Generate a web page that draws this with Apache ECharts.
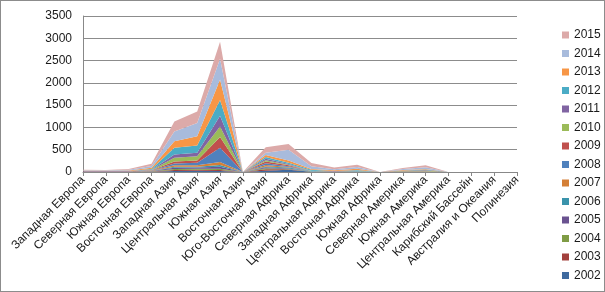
<!DOCTYPE html>
<html><head><meta charset="utf-8">
<script src="https://cdn.jsdelivr.net/npm/echarts@6/dist/echarts.min.js"></script>
<style>
html,body{margin:0;padding:0;background:#fff;}
#c{width:605px;height:292px;box-sizing:border-box;border:1px solid #8c8c8c;}
</style></head>
<body><div id="c"></div>
<script>
const categories = ['Западная Европа','Северная Европа','Южная Европа','Восточная Европа','Западная Азия','Центральная Азия','Южная Азия','Восточная Азия','Юго-Восточная Азия','Северная Африка','Западная Африка','Центральная Африка','Восточная Африка','Южная Африка','Северная Америка','Южная Америка','Центральная Америка','Карибский Бассейн','Австралия и Океания','Полинезия'];
const years = ['2002','2003','2004','2005','2006','2007','2008','2009','2010','2011','2012','2013','2014','2015'];
const yTicks = [0,500,1000,1500,2000,2500,3000,3500];
const v2002 = [2,2,2,5,25,30,20,0,30,50,3,2,3,0,2,2,0,0,0,0];
const v2003 = [2,2,2,5,20,20,25,0,30,10,3,2,3,0,2,2,0,0,0,0];
const v2004 = [2,2,2,5,25,25,30,0,25,10,3,2,3,0,2,2,0,0,0,0];
const v2005 = [2,2,2,5,25,25,40,0,20,10,3,2,3,0,2,2,0,0,0,0];
const v2006 = [2,2,2,5,20,15,40,0,20,20,3,2,3,0,2,2,0,0,0,0];
const v2007 = [2,2,2,5,34,34,70,0,30,10,3,2,3,0,2,2,0,0,0,0];
const v2008 = [2,2,2,5,44,60,320,0,40,20,3,2,3,0,2,2,0,0,0,0];
const v2009 = [2,2,2,5,45,51,240,0,40,20,3,2,3,0,2,5,0,0,0,0];
const v2010 = [2,2,2,5,82,96,237,0,30,15,3,2,5,0,10,15,0,0,0,0];
const v2011 = [2,2,2,5,73,75,238,0,30,15,3,2,5,0,5,10,0,0,0,0];
const v2012 = [5,4,5,20,149,162,356,0,40,30,20,5,10,0,5,10,0,0,0,0];
const v2013 = [5,5,10,25,147,207,460,0,45,50,20,15,30,0,10,15,0,0,0,0];
const v2014 = [10,8,15,40,222,298,466,0,53,240,60,20,40,0,20,40,0,0,0,0];
const v2015 = [10,8,20,50,222,258,380,0,125,130,70,40,50,0,25,40,0,0,0,0];
const values = [v2002,v2003,v2004,v2005,v2006,v2007,v2008,v2009,v2010,v2011,v2012,v2013,v2014,v2015];
const colors = ['#3f6a9f','#a2403d','#7f9c45','#6a5290','#3a93ab','#d47f36','#4f81bd','#c0504d','#9bbb59','#8064a2','#4bacc6','#f79646','#a8bbdc','#dcaaa9'];

const chart = echarts.init(document.getElementById('c'), null, {renderer:'canvas'});
const font = 'Liberation Sans, Arial, sans-serif';
chart.setOption({
  animation:false,
  color: colors,
  grid:{left:82, right:87, top:15, bottom:119, containLabel:false},
  legend:{
    orient:'vertical', left:556, top:22,
    data: years.slice().reverse(),
    icon:'rect', itemWidth:7, itemHeight:7, itemGap:4.5,
    textStyle:{fontFamily:font, fontSize:12, color:'#1a1a1a', lineHeight:14}
  },
  xAxis:{
    type:'category', data:categories, boundaryGap:false,
    axisLine:{lineStyle:{color:'#888', width:1}},
    axisTick:{show:true, alignWithLabel:true, interval:0, length:4, lineStyle:{color:'#888'}},
    axisLabel:{interval:0, rotate:45, fontFamily:font, fontSize:12, color:'#1a1a1a', margin:6},
    splitLine:{show:false}
  },
  yAxis:{
    type:'value', min:yTicks[0], max:yTicks[yTicks.length-1], interval:500,
    axisLine:{show:true, lineStyle:{color:'#888'}},
    axisTick:{show:false},
    axisLabel:{fontFamily:font, fontSize:12, color:'#1a1a1a', margin:11, formatter:v=>String(v)},
    splitLine:{lineStyle:{color:'#8c8c8c', width:1}}
  },
  series: years.map((y,i)=>({
    name:y, type:'line', stack:'total', data:values[i],
    symbol:'none', lineStyle:{width:0}, areaStyle:{opacity:1, color:colors[i]},
    itemStyle:{color:colors[i]}
  }))
});
</script></body></html>
